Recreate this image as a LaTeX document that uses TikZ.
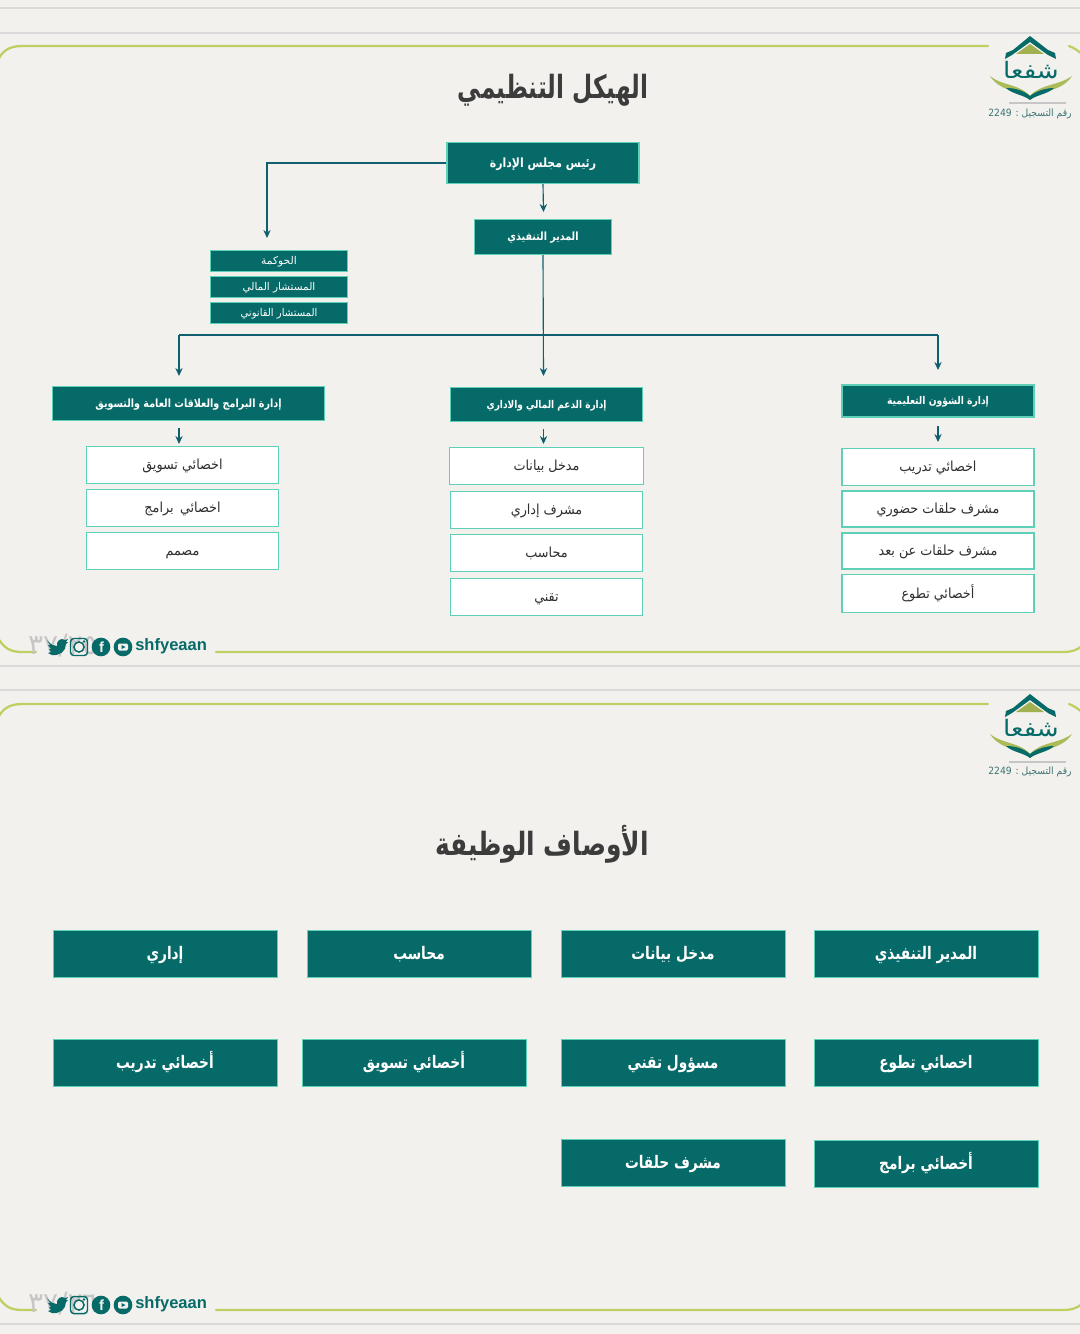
\documentclass[tikz,border=0pt]{standalone}
\usepackage{graphicx}
\usepackage{fontspec}
\TeXXeTstate=1
\setmainfont{Liberation Sans}
\newfontfamily\arabicfont[Script=Arabic]{DejaVu Sans}
\usetikzlibrary{arrows.meta}
\definecolor{bgc}{HTML}{F2F1EE}
\definecolor{teal1}{HTML}{066A68}
\definecolor{mint}{HTML}{5FD0B8}
\definecolor{lime}{HTML}{BDD061}
\definecolor{linec}{HTML}{0F5F6E}
\definecolor{rulec}{HTML}{DADADA}
\definecolor{ttl}{HTML}{3C3C3C}
% scaled, vertically centred Arabic text: \ars{x-scale}{size}{text}
\newcommand{\ars}[3]{\fontsize{#2}{#2}\selectfont\smash{\raisebox{-0.33em}{\scalebox{#1}[1]{\arabicfont #3}}}}
\newcommand{\fsz}[1]{\fontsize{#1}{#1}\selectfont}
\tikzset{
 hbox/.style={draw=mint,fill=teal1,line width=0.8pt,text=white,inner sep=0pt,anchor=center},
 wbox/.style={draw=mint,fill=white,line width=0.8pt,text=black!82,inner sep=0pt,anchor=center},
 jbox/.style={fill=teal1,draw=mint,line width=0.5pt,text=white,inner sep=0pt,anchor=center,minimum width=168pt,minimum height=35.5pt},
 conn/.style={draw=linec,line width=0.85pt},
 arr/.style={conn,-{Stealth[length=6pt,width=5.5pt]}},
 frame/.style={draw=lime,line width=1.7pt,line cap=round},
 rule/.style={draw=rulec,line width=1pt}
}
\newcommand{\logo}[2]{%
 \begin{scope}[shift={(#1,#2)}]
  \fill[teal1] (1030,36) -- (1048,50) -- (1055,53) -- (1056,59) -- (1048,55) -- (1030,42) -- (1012,55) -- (1005,59) -- (1006,53) -- (1013,50) -- cycle;
  \fill[lime!85!black] (1030,44) -- (1044,54) -- (1016,54) -- cycle;
  \node[text=teal1,inner sep=0pt] (lg#2) at (1031,71) {\ars{1.15}{17}{\beginR شفعا\endR}};
  \fill[lime!90!black] (990,76) .. controls (1002,86) and (1020,84) .. (1030,96) .. controls (1040,84) and (1058,86) .. (1072,76) .. controls (1062,92) and (1040,90) .. (1030,100) .. controls (1020,90) and (1000,92) .. (990,76) -- cycle;
  \fill[teal1] (1006,88) .. controls (1016,88) and (1024,91) .. (1030,96) .. controls (1036,91) and (1046,88) .. (1054,88) .. controls (1048,94) and (1036,95) .. (1030,100) .. controls (1024,95) and (1012,94) .. (1006,88) -- cycle;
  \fill[gray!45] (1009,102.5) rectangle (1066,104.5);
  \node[text=teal1!55!gray,inner sep=0pt] (lr#2) at (1030,113) {\ars{0.92}{7.5}{\beginR رقم التسجيل : \beginL 2249\endL\endR}};
 \end{scope}}
\newcommand{\social}[2]{%
 \begin{scope}[shift={(0,#1)}]
  \node[text=gray!45,inner sep=0pt] (pg#1) at (63,645) {\ars{1}{21}{#2}};
  \fill[teal1] (47,640) .. controls (51,645) and (54,646) .. (57,646) .. controls (56,641) and (61,637) .. (65,640) -- (68,639) -- (66,642) -- (68,642) -- (66,644) .. controls (66,651) and (60,656) .. (52,655) -- (48,653) -- (51,652) -- (49,649) -- (51,649) -- (48,645) -- (50,645) -- cycle;
  \draw[teal1,line width=1.1pt,rounded corners=2.5pt] (70.5,638.5) rectangle (87.5,655.5);
  \draw[teal1,line width=1.1pt] (79,647) circle (3.8pt);
  \fill[teal1] (84,641.5) circle (1pt);
  \fill[teal1] (101,647) circle (7pt);
  \node[text=bgc,inner sep=0pt] (fb#1) at (101.5,647.5) {\bfseries\fsz{11}f};
  \fill[teal1] (123,647) circle (7pt);
  \fill[bgc,rounded corners=1pt] (118,643.5) rectangle (128,650.5);
  \fill[teal1] (121.5,645) -- (125.5,647) -- (121.5,649) -- cycle;
  \node[text=teal1,inner sep=0pt,anchor=west] (sn#1) at (135,646.5) {\bfseries\fsz{12.4}shfyeaan};
 \end{scope}}
\begin{document}
\begin{tikzpicture}[x=0.75pt,y=-0.75pt]
\useasboundingbox (0,0) rectangle (1080,1334);
\fill[bgc] (0,0) rectangle (1080,1334);
% rules
\draw[rule] (0,8) -- (1080,8);
\draw[rule] (0,33) -- (1080,33);
\draw[rule] (0,666) -- (1080,666);
\draw[rule] (0,690) -- (1080,690);
\draw[rule] (0,1324) -- (1080,1324);
% frame 1
\draw[frame] (988,46) -- (22,46) .. controls (8,46) and (2,52) .. (-2,60);
\draw[frame] (1069,46) .. controls (1074,48) and (1077,50) .. (1082,54);
\draw[frame] (-2,638) .. controls (4,648) and (10,652) .. (22,652) -- (36,652);
\draw[frame] (216,652) -- (1062,652) .. controls (1072,652) and (1077,650) .. (1082,646);
% frame 2
\draw[frame] (988,704) -- (22,704) .. controls (8,704) and (2,710) .. (-2,718);
\draw[frame] (1069,704) .. controls (1074,706) and (1077,708) .. (1082,712);
\draw[frame] (-2,1296) .. controls (4,1306) and (10,1310) .. (22,1310) -- (36,1310);
\draw[frame] (216,1310) -- (1062,1310) .. controls (1072,1310) and (1077,1308) .. (1082,1304);
\logo{0}{0}
\logo{0}{658}
\social{0}{\beginR ٣٧/٢٥\endR}
\social{658}{\beginR ٣٧/٢٦\endR}
% titles
\node[text=ttl,inner sep=0pt,font=\bfseries] (t1) at (553,88) {\ars{0.725}{24}{\beginR الهيكل التنظيمي\endR}};
\node[text=ttl,inner sep=0pt,font=\bfseries] (t2) at (542,845) {\ars{0.776}{24}{\beginR الأوصاف الوظيفة\endR}};
% org chart
\node[hbox,font=\bfseries,minimum width=144pt,minimum height=31pt] (ceo) at (543,163) {\ars{0.86}{9.5}{\beginR رئيس مجلس الإدارة\endR}};
\node[hbox,font=\bfseries,minimum width=103pt,minimum height=26.5pt] (ed) at (543,237) {\ars{0.84}{8.5}{\beginR المدير التنفيذي\endR}};
\node[hbox,minimum width=103pt,minimum height=16pt] (g1) at (279,261) {\ars{1}{8}{\beginR الحوكمة\endR}};
\node[hbox,minimum width=103pt,minimum height=16pt] (g2) at (279,287) {\ars{0.98}{8}{\beginR المستشار المالي\endR}};
\node[hbox,minimum width=103pt,minimum height=16pt] (g3) at (279,313) {\ars{0.94}{8}{\beginR المستشار القانوني\endR}};
\node[hbox,font=\bfseries,minimum width=204pt,minimum height=25pt] (d1) at (188.5,403.5) {\ars{0.845}{8.5}{\beginR إدارة البرامج والعلاقات العامة والتسويق\endR}};
\node[hbox,font=\bfseries,minimum width=144pt,minimum height=26pt] (d2) at (546.5,404.5) {\ars{0.84}{8}{\beginR إدارة الدعم المالي والاداري\endR}};
\node[hbox,font=\bfseries,minimum width=144pt,minimum height=24pt] (d3) at (938,401) {\ars{0.86}{8}{\beginR إدارة الشؤون التعليمية\endR}};
\coordinate (gt) at (267,238);
\coordinate (bl) at (179,335);
\coordinate (br) at (938,335);
\coordinate (al) at (179,376);
\coordinate (ar) at (938,370);
\coordinate (am) at (543.5,376);
\coordinate (e1) at (543.5,212);
\draw[arr] (ceo.west) -| (gt);
\draw[arr] (ceo.south) -- (e1);
\draw[arr] (ed.south) -- (am);
\draw[conn] (bl) -- (br);
\draw[arr] (bl) -- (al);
\draw[arr] (br) -- (ar);
% sub-lists
\node[wbox,minimum width=144pt,minimum height=28pt] (a1) at (182.5,465) {\ars{0.92}{10.4}{\beginR اخصائي تسويق\endR}};
\node[wbox,minimum width=144pt,minimum height=28pt] (a2) at (182.5,508) {\ars{0.92}{10.4}{\beginR اخصائي\hspace{0.5em}برامج\endR}};
\node[wbox,minimum width=144pt,minimum height=28pt] (a3) at (182.5,551) {\ars{0.92}{10.4}{\beginR مصمم\endR}};
\node[wbox,minimum width=145pt,minimum height=28pt] (b1) at (546.5,466) {\ars{0.92}{10.4}{\beginR مدخل بيانات\endR}};
\node[wbox,minimum width=144pt,minimum height=28pt] (b2) at (546.5,510) {\ars{0.92}{10.4}{\beginR مشرف إداري\endR}};
\node[wbox,minimum width=144pt,minimum height=28pt] (b3) at (546.5,553) {\ars{0.92}{10.4}{\beginR محاسب\endR}};
\node[wbox,minimum width=144pt,minimum height=28pt] (b4) at (546.5,597) {\ars{0.92}{10.4}{\beginR تقني\endR}};
\node[wbox,minimum width=144pt,minimum height=28pt] (c1) at (938,467) {\ars{0.92}{10.4}{\beginR اخصائي تدريب\endR}};
\node[wbox,minimum width=144pt,minimum height=27pt] (c2) at (938,509) {\ars{0.92}{10.4}{\beginR مشرف حلقات حضوري\endR}};
\node[wbox,minimum width=144pt,minimum height=27pt] (c3) at (938,551) {\ars{0.92}{10.4}{\beginR مشرف حلقات عن بعد\endR}};
\node[wbox,minimum width=144pt,minimum height=28pt] (c4) at (938,593.5) {\ars{0.92}{10.4}{\beginR أخصائي تطوع\endR}};
\coordinate (a0) at (179,444);
\coordinate (b0) at (543.5,444);
\coordinate (c0) at (938,442);
\coordinate (a9) at (179,428);
\coordinate (b9) at (543.5,429);
\coordinate (c9) at (938,426);
\draw[arr] (a9) -- (a0);
\draw[arr] (b9) -- (b0);
\draw[arr] (c9) -- (c0);
% job descriptions
\node[jbox,font=\bfseries] (j1) at (926,953.5) {\ars{0.79}{13}{\beginR المدير التنفيذي\endR}};
\node[jbox,font=\bfseries] (j2) at (673,953.5) {\ars{0.79}{13}{\beginR مدخل بيانات\endR}};
\node[jbox,font=\bfseries] (j3) at (419,953.5) {\ars{0.79}{13}{\beginR محاسب\endR}};
\node[jbox,font=\bfseries] (j4) at (165,953.5) {\ars{0.79}{13}{\beginR إداري\endR}};
\node[jbox,font=\bfseries] (j5) at (926,1062.5) {\ars{0.79}{13}{\beginR اخصائي تطوع\endR}};
\node[jbox,font=\bfseries] (j6) at (673,1062.5) {\ars{0.79}{13}{\beginR مسؤول تقني\endR}};
\node[jbox,font=\bfseries] (j7) at (414,1062.5) {\ars{0.79}{13}{\beginR أخصائي تسويق\endR}};
\node[jbox,font=\bfseries] (j8) at (165,1062.5) {\ars{0.79}{13}{\beginR أخصائي تدريب\endR}};
\node[jbox,font=\bfseries] (j9) at (926,1163.5) {\ars{0.79}{13}{\beginR أخصائي برامج\endR}};
\node[jbox,font=\bfseries] (j10) at (673,1163) {\ars{0.79}{13}{\beginR مشرف حلقات\endR}};
\end{tikzpicture}
\end{document}
